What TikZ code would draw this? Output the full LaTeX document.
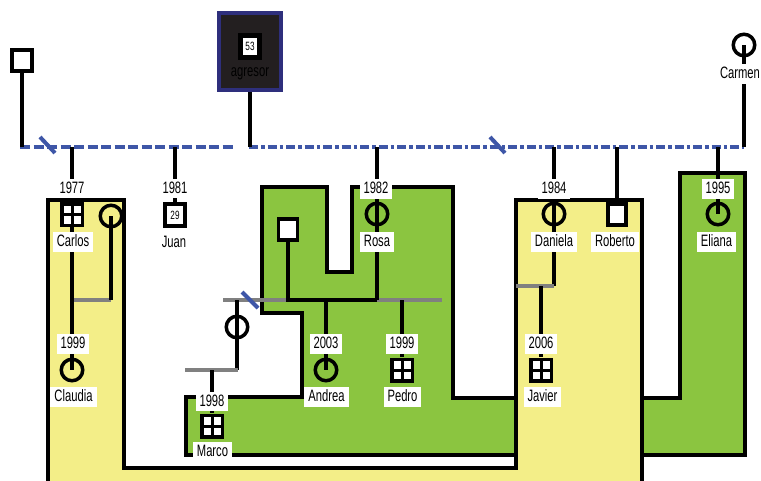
\documentclass[tikz,border=0pt]{standalone}
\usepackage{fontspec}
\setmainfont{Liberation Sans}[FakeStretch=0.68]
\definecolor{yel}{HTML}{F3EE88}
\definecolor{grn}{HTML}{8BC540}
\definecolor{blu}{HTML}{3E56A7}
\definecolor{gry}{HTML}{808080}
\definecolor{agr}{HTML}{231F20}
\definecolor{agb}{HTML}{2E2F7C}
\pgfdeclarelayer{bg}
\pgfdeclarelayer{mid}
\pgfsetlayers{bg,mid,main}
\begin{document}
\begin{tikzpicture}[x=1pt,y=-1pt,
  border/.style={line width=4pt, black, line join=miter},
  kin/.style={line width=4pt, black},
  marr/.style={line width=4pt, gry},
  bluedash/.style={line width=4pt, blu, dash pattern=on 10pt off 3.5pt},
  bluedashdot/.style={line width=4pt, blu, dash pattern=on 9pt off 3pt on 3.5pt off 3pt},
  slash/.style={line width=4pt, blu},
  female/.style={circle, draw=black, line width=3.5pt, minimum size=21.5pt, inner sep=0pt},
  male/.style={rectangle, draw=black, fill=white, line width=3.5pt, minimum width=20pt, minimum height=21pt, inner sep=0pt},
  quadsq/.style={rectangle, fill=black, minimum width=24pt, minimum height=25pt, inner sep=0pt},
  lab/.style={fill=white, inner xsep=4pt, inner ysep=2.5pt, text height=12pt, text depth=2.5pt, font=\fontsize{16.5}{16.5}\selectfont},
  small/.style={font=\fontsize{12}{12}\selectfont, inner sep=0pt}
]
\useasboundingbox (0,0) rectangle (761,480);

\newcommand\pedcells[1]{%
  \fill[white] ([shift={(-8.5pt,-9pt)}]#1.center) rectangle ([shift={(-1.5pt,-1.5pt)}]#1.center);
  \fill[white] ([shift={(1.5pt,-9pt)}]#1.center) rectangle ([shift={(8.5pt,-1.5pt)}]#1.center);
  \fill[white] ([shift={(-8.5pt,1.5pt)}]#1.center) rectangle ([shift={(-1.5pt,9pt)}]#1.center);
  \fill[white] ([shift={(1.5pt,1.5pt)}]#1.center) rectangle ([shift={(8.5pt,9pt)}]#1.center);}

% regions
\begin{pgfonlayer}{bg}
\fill[grn] (262,187) -- (327,187) -- (327,272) -- (352,272) -- (352,187) -- (453,187) -- (453,398) -- (680,398) -- (680,173) -- (745,173) -- (745,455) -- (186,455) -- (186,397) -- (302,397) -- (302,313) -- (262,313) -- cycle;
\draw[border] (262,187) -- (327,187) -- (327,272) -- (352,272) -- (352,187) -- (453,187) -- (453,398) -- (680,398) -- (680,173) -- (745,173) -- (745,455) -- (186,455) -- (186,397) -- (302,397) -- (302,313) -- (262,313) -- cycle;
\fill[yel] (48,490) -- (48,200) -- (124,200) -- (124,468) -- (516,468) -- (516,200) -- (642,200) -- (642,490) -- cycle;
\draw[border] (48,490) -- (48,200) -- (124,200) -- (124,468) -- (516,468) -- (516,200) -- (642,200) -- (642,490);
\end{pgfonlayer}

% coordinates
\coordinate (bL) at (20,147);
\coordinate (bLm) at (233,147);
\coordinate (bRm) at (249,147);
\coordinate (bR) at (744,147);
\coordinate (b22) at (22,147);
\coordinate (b72) at (72,147);
\coordinate (b175) at (175,147);
\coordinate (b250) at (250,147);
\coordinate (b377) at (377,147);
\coordinate (b554) at (554,147);
\coordinate (b617) at (617,147);
\coordinate (b718) at (718,147);
\coordinate (g1a) at (72,300);
\coordinate (g1b) at (111,300);
\coordinate (g2a) at (223,300);
\coordinate (g2b) at (442,300);
\coordinate (r288) at (288,300);
\coordinate (r377) at (377,300);
\coordinate (r326) at (326,300);
\coordinate (r402) at (402,300);
\coordinate (r237) at (237,300);
\coordinate (g3a) at (185,370);
\coordinate (g3b) at (238,370);
\coordinate (m237) at (237,370);
\coordinate (m212) at (212,370);
\coordinate (g4a) at (516,286);
\coordinate (g4b) at (554,286);
\coordinate (j541) at (541,286);

% people
\node[male] (tl) at (22,60.5) {};
\node[draw=agb, fill=agr, line width=4pt, minimum width=62pt, minimum height=77pt, inner sep=0pt] (agresor) at (250,51.5) {};
\node[draw=black, fill=white, line width=5pt, minimum width=19pt, minimum height=22pt, small] (ag53) at (250,46.5) {53};
\node[font=\fontsize{16.5}{16.5}\selectfont, text=black, inner sep=0pt] (agtxt) at (250,74) {agresor};
\node[female] (carmen) at (744,45) {};
\node[quadsq] (carlos) at (72,214.5) {};
\node[female] (cpart) at (111,216) {};
\node[male, minimum height=22pt, small] (juan) at (175,215) {29};
\node[female] (rosa) at (377,214) {};
\node[male, minimum width=19pt] (rpart) at (288,229.5) {};
\node[female] (expart) at (237,327) {};
\node[female] (claudia) at (72,370) {};
\node[female] (andrea) at (326,370) {};
\node[quadsq] (pedro) at (402,370) {};
\node[quadsq] (marco) at (212,426) {};
\node[female] (daniela) at (554,214) {};
\node[male, minimum width=18pt] (roberto) at (617,214.5) {};
\node[quadsq] (javier) at (541,370) {};
\node[female] (eliana) at (718,214) {};
\pedcells{carlos}
\pedcells{pedro}
\pedcells{marco}
\pedcells{javier}

% connectors
\begin{pgfonlayer}{mid}
\draw[bluedash] (bL) -- (bLm);
\draw[bluedashdot] (bRm) -- (bR);
\draw[slash] (40,137) -- (55,153);
\draw[slash] (490,137) -- (505,153);
\draw[kin] (tl.south) -- (b22);
\draw[kin] (agresor.south) -- (b250);
\draw[kin] (carmen.center) -- (bR);
\draw[marr] (g1a) -- (g1b);
\draw[kin] (b72) -- (claudia.center);
\draw[kin] (cpart.center) -- (g1b);
\draw[kin] (b175) -- (juan.north);
\draw[marr] (g2a) -- (g2b);
\draw[kin] (b377) -- (r377);
\draw[kin] (rpart.south) -- (r288) -- (r377);
\draw[kin] (r326) -- (andrea.center);
\draw[kin] (r402) -- (pedro.north);
\draw[kin] (r237) -- (m237);
\draw[marr] (g3a) -- (g3b);
\draw[kin] (m212) -- (marco.north);
\draw[slash] (242,292) -- (258,308);
\draw[kin] (b554) -- (g4b);
\draw[marr] (g4a) -- (g4b);
\draw[kin] (j541) -- (javier.north);
\draw[kin] (b617) -- (roberto.north);
\draw[kin] (b718) -- (eliana.center);
\end{pgfonlayer}

% labels
\node[lab, inner xsep=0.5pt] (lcarmen) at (740,74) {Carmen};
\node[lab] (y1977) at (72,188.5) {1977};
\node[lab] (lcarlos) at (73,242) {Carlos};
\node[lab] (y1981) at (175,188.5) {1981};
\node[lab] (ljuan) at (174,243) {Juan};
\node[lab] (y1982) at (376,189) {1982};
\node[lab] (lrosa) at (377,242) {Rosa};
\node[lab] (y1984) at (554,189) {1984};
\node[lab] (ldaniela) at (554,242) {Daniela};
\node[lab] (lroberto) at (615,242) {Roberto};
\node[lab] (y1995) at (718,189) {1995};
\node[lab] (leliana) at (716.5,242) {Eliana};
\node[lab] (y1999a) at (73,344) {1999};
\node[lab] (lclaudia) at (73.5,397) {Claudia};
\node[lab] (y2003) at (326,344) {2003};
\node[lab] (landrea) at (326.5,397) {Andrea};
\node[lab] (y1999b) at (402,344) {1999};
\node[lab] (lpedro) at (402.5,397) {Pedro};
\node[lab] (y2006) at (541,344) {2006};
\node[lab] (ljavier) at (542.5,397) {Javier};
\node[lab] (y1998) at (212,401.5) {1998};
\node[lab] (lmarco) at (212.5,452) {Marco};
\end{tikzpicture}
\end{document}
